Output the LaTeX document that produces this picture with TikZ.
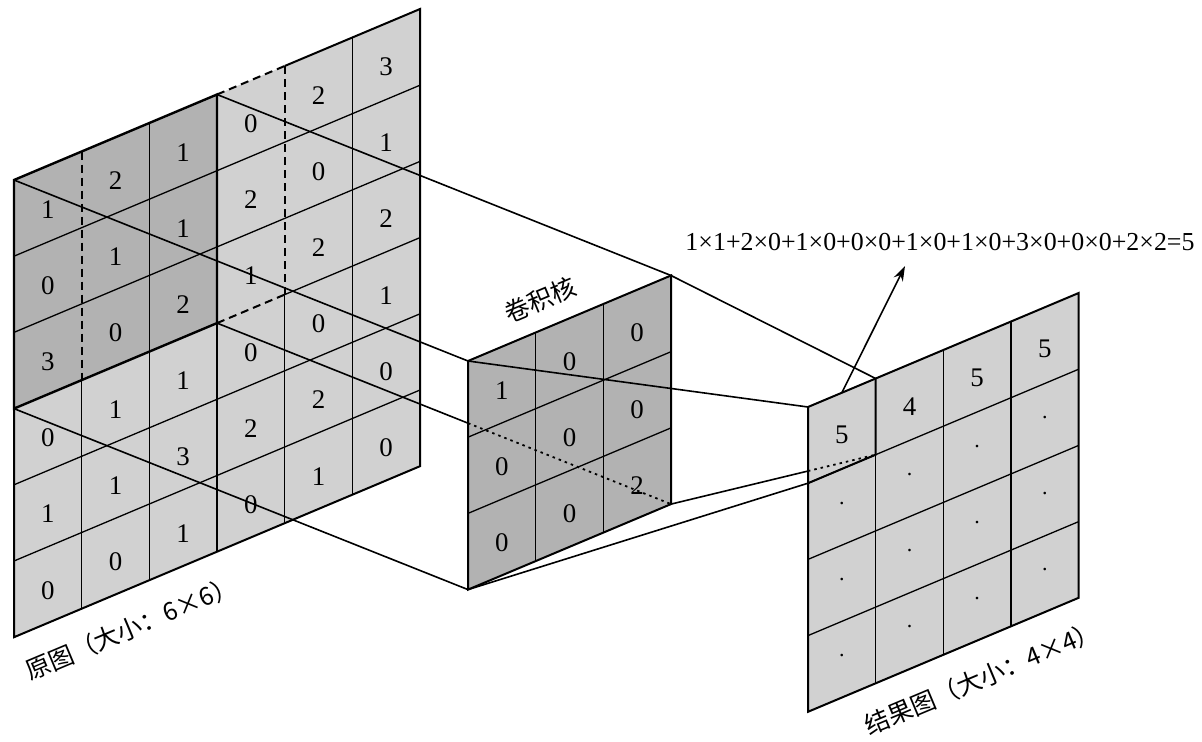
\documentclass[tikz,border=0pt]{standalone}
\usepackage{fontspec}
\setmainfont{Liberation Serif}
\newfontfamily\numfont{Liberation Serif}
\newfontfamily\cjk{Noto Sans CJK SC}
\usetikzlibrary{calc,arrows.meta}
\begin{document}
\begin{tikzpicture}[x=1bp,y=-1bp,
  lightcell/.style={fill=black!18},
  darkcell/.style={fill=black!30},
  gridline/.style={line width=1.3bp},
  dashline/.style={line width=2bp,dash pattern=on 8bp off 5bp},
  border/.style={line width=2bp},
  winborder/.style={line width=2.4bp},
  proj/.style={line width=1.6bp},
  dotline/.style={line width=1.8bp,dash pattern=on 2.5bp off 4bp},
  num/.style={inner sep=0,font=\numfont\fontsize{27}{27}\selectfont},
  cjklabel/.style={inner sep=0,font=\cjk\fontsize{25}{25}\selectfont,rotate=22.8}]
\useasboundingbox (0,0) rectangle (1202,742);
\fill[white] (0,0) rectangle (1202,742);
\def\cw{67.67}\def\cs{28.5}\def\ch{76.2}
% corner coordinates
\foreach \c in {0,...,6}{\foreach \r in {0,...,6}{
  \coordinate (B-\c-\r) at ({14+\cw*\c},{180-\cs*\c+\ch*\r});}}
\foreach \c in {0,...,3}{\foreach \r in {0,...,3}{
  \coordinate (K-\c-\r) at ({468+\cw*\c},{361-\cs*\c+\ch*\r});}}
\foreach \c in {0,...,4}{\foreach \r in {0,...,4}{
  \coordinate (O-\c-\r) at ({808+\cw*\c},{407-\cs*\c+\ch*\r});}}
% ---------- original image ----------
\fill[lightcell] (B-0-0)--(B-6-0)--(B-6-6)--(B-0-6)--cycle;
\fill[darkcell] (B-0-0)--(B-3-0)--(B-3-3)--(B-0-3)--cycle;
\foreach \r in {1,2,4,5}{\draw[gridline] (B-0-\r)--(B-6-\r);}
\draw[gridline] (B-4-3)--(B-6-3);
\draw[dashline] (B-3-3)--(B-4-3);
\draw[dashline] (B-1-0)--(B-1-3);
\draw[gridline] (B-1-3)--(B-1-6);
\draw[gridline] (B-2-0)--(B-2-6);
\draw[gridline] (B-3-3)--(B-3-6);
\draw[dashline] (B-4-0)--(B-4-3);
\draw[gridline] (B-4-3)--(B-4-6);
\draw[gridline] (B-5-0)--(B-5-6);
\draw[border] (B-4-0)--(B-6-0)--(B-6-6)--(B-0-6)--(B-0-3);
\draw[dashline] (B-3-0)--(B-4-0);
\draw[winborder] (B-0-0)--(B-3-0)--(B-3-3)--(B-0-3)--cycle;
\foreach \r/\vals in {0/{1,2,1,0,2,3},1/{0,1,1,2,0,1},2/{3,0,2,1,2,2},
                      3/{0,1,1,0,0,1},4/{1,1,3,2,2,0},5/{0,0,1,0,1,0}}{
  \foreach \v [count=\i from 0] in \vals{
    \node[num] (b\r\i) at ({14+\cw*(\i+0.5)},{180-\cs*(\i+0.5)+\ch*(\r+0.57)}) {\v};}}
\node[cjklabel] (lab1) at (131,628) {原图（大小：6×6）};
% ---------- projection lines to kernel ----------
\draw[proj] (B-0-0)--(K-0-0);
\draw[proj] (B-3-0)--(K-3-0);
\draw[proj] (B-0-3)--(K-0-3);
\draw[proj] (B-3-3)--(K-3-3);
% ---------- kernel ----------
\fill[darkcell] (K-0-0)--(K-3-0)--(K-3-3)--(K-0-3)--cycle;
\foreach \r in {1,2}{\draw[gridline] (K-0-\r)--(K-3-\r);}
\foreach \c in {1,2}{\draw[gridline] (K-\c-0)--(K-\c-3);}
\draw[border] (K-0-0)--(K-3-0)--(K-3-3)--(K-0-3)--cycle;
\coordinate (kin) at ($(B-3-3)!0.553!(K-3-3)$);
\draw[dotline] (kin)--(K-3-3);
\foreach \r/\vals in {0/{1,0,0},1/{0,0,0},2/{0,0,2}}{
  \foreach \v [count=\i from 0] in \vals{
    \node[num] (k\r\i) at ({468+\cw*(\i+0.5)},{361-\cs*(\i+0.5)+\ch*(\r+0.57)}) {\v};}}
\node[cjklabel] (lab2) at (540,300) {卷积核};
% ---------- result ----------
\fill[lightcell] (O-0-0)--(O-4-0)--(O-4-4)--(O-0-4)--cycle;
\foreach \r in {1,2,3}{\draw[gridline] (O-0-\r)--(O-4-\r);}
\foreach \c in {1,2,3}{\draw[gridline] (O-\c-0)--(O-\c-4);}
\draw[border] (O-0-0)--(O-4-0)--(O-4-4)--(O-0-4)--cycle;
\draw[border] (O-0-1)--(O-1-1)--(O-1-0);
\foreach \r/\vals in {0/{5,4,5,5},1/{.,.,.,.},2/{.,.,.,.},3/{.,.,.,.}}{
  \foreach \v [count=\i from 0] in \vals{
    \ifnum\r=0
      \node[num] (o\r\i) at ({808+\cw*(\i+0.5)},{407-\cs*(\i+0.5)+\ch*(\r+0.55)}) {\v};
    \else
      \node[inner sep=0,font=\numfont\fontsize{22}{22}\selectfont] (o\r\i) at ({808+\cw*(\i+0.5)},{407-\cs*(\i+0.5)+\ch*(\r+0.5)-4}) {\v};
    \fi}}
\node[cjklabel] (lab3) at (982,678) {结果图（大小：4×4）};
% ---------- lines to result ----------
\draw[proj] (K-0-0)--(O-0-0);
\draw[proj] (K-3-0)--(O-1-0);
\draw[proj] (K-0-3)--(O-0-1);
\coordinate (oin) at ($(K-3-3)!0.669!(O-1-1)$);
\draw[proj] (K-3-3)--(oin);
\draw[dotline] (oin)--(O-1-1);
% ---------- formula ----------
\node[inner sep=0,font=\numfont\fontsize{26}{26}\selectfont] (formula) at (940,242)
  {1×1+2×0+1×0+0×0+1×0+1×0+3×0+0×0+2×2=5};
\coordinate (astart) at ($(O-0-0)!0.5!(O-1-0)$);
\coordinate (atip) at (905,266);
\draw[line width=1.6bp,-{Stealth[length=15bp,width=10bp]}] (astart)--(atip);
\end{tikzpicture}
\end{document}
